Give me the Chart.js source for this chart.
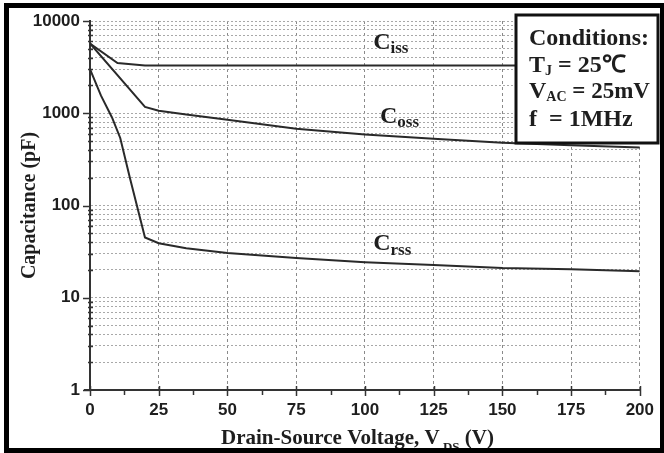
<!DOCTYPE html>
<html>
<head>
<meta charset="utf-8">
<script src="https://cdn.jsdelivr.net/npm/chart.js@4"></script>
<style>
  html, body { margin: 0; padding: 0; background: #fff; }
  canvas { display: block; }
</style>
</head>
<body>
<canvas id="chart" width="664" height="453"></canvas>
<script>
// Capacitance vs. drain-source voltage (log scale, pF)
const cissV = [0, 10, 20, 50, 100, 150, 200];
const cissC = [5700, 3500, 3300, 3300, 3290, 3290, 3290];

const cossV = [0, 20, 25, 35, 50, 75, 100, 125, 150, 175, 200];
const cossC = [5700, 1170, 1065, 970, 850, 680, 590, 530, 480, 450, 425];

const crssV = [0, 4, 8, 11, 14.5, 20, 25, 35, 50, 75, 100, 125, 150, 175, 200];
const crssC = [3000, 1550, 900, 540, 200, 45, 39, 34.5, 30.5, 27, 24.3, 22.6, 21, 20.4, 19.4];

const xTicks = [0, 25, 50, 75, 100, 125, 150, 175, 200];
const yTicks = [1, 10, 100, 1000, 10000];

const SERIF = '"Liberation Serif", "Times New Roman", Times, serif';
const SANS = '"Liberation Sans", Arial, Helvetica, sans-serif';
const INK = '#1e1e1e';

function pts(xs, ys) { return xs.map((v, i) => ({ x: v, y: ys[i] })); }

// every 1..9 x 10^n position of the log axis
function logPositions(min, max) {
  const out = [];
  for (let d = min; d <= max; d *= 10) {
    for (let m = 1; m < 10; m++) {
      const v = d * m;
      if (v > max) break;
      out.push(v);
    }
  }
  return out;
}

// small tick marks on both axes
const tickMarks = {
  id: 'tickMarks',
  afterDatasetsDraw(chart) {
    const { ctx, scales: { x, y } } = chart;
    const ax = chart.chartArea.left, ay = chart.chartArea.bottom;
    ctx.save();
    ctx.strokeStyle = '#333';
    ctx.lineWidth = 1.5;
    logPositions(1, 10000).forEach(v => {
      const py = Math.round(y.getPixelForValue(v)) + 0.5;
      const major = yTicks.includes(v);
      ctx.beginPath();
      ctx.moveTo(major ? ax - 7 : ax - 2, py);
      ctx.lineTo(major ? ax : ax + 3, py);
      ctx.stroke();
    });
    for (let v = 0; v <= 200; v += 12.5) {
      const px = Math.round(x.getPixelForValue(v)) + 0.5;
      const major = xTicks.includes(v);
      ctx.beginPath();
      ctx.moveTo(px, major ? ay - 4 : ay);
      ctx.lineTo(px, major ? ay + 6 : ay + 5);
      ctx.stroke();
    }
    // x axis line runs a little past the y axis
    ctx.lineWidth = 2;
    ctx.beginPath();
    ctx.moveTo(ax - 6, ay);
    ctx.lineTo(ax, ay);
    ctx.stroke();
    ctx.restore();
  }
};

// draws a run of [text, fontSize, baselineShift] pieces
function drawRich(ctx, x, y, pieces) {
  let cx = x;
  pieces.forEach(([t, size, dy]) => {
    ctx.font = 'bold ' + size + 'px ' + SERIF;
    ctx.fillText(t, cx, y + dy);
    cx += ctx.measureText(t).width;
  });
  return cx;
}

// curve names, conditions box, x title, outer frame
const annotations = {
  id: 'annotations',
  afterDatasetsDraw(chart) {
    const { ctx, scales: { x, y } } = chart;
    ctx.save();
    ctx.fillStyle = INK;
    ctx.textBaseline = 'alphabetic';
    ctx.textAlign = 'left';

    // curve names
    drawRich(ctx, x.getPixelForValue(103), y.getPixelForValue(5000), [['C', 24, 0], ['iss', 17, 4]]);
    drawRich(ctx, x.getPixelForValue(105.5), y.getPixelForValue(780), [['C', 24, 0], ['oss', 17, 4]]);
    drawRich(ctx, x.getPixelForValue(103), y.getPixelForValue(32.7), [['C', 24, 0], ['rss', 17, 5]]);

    // conditions box
    ctx.fillStyle = '#fff';
    ctx.fillRect(516, 15, 142, 128);
    ctx.strokeStyle = '#111';
    ctx.lineWidth = 3;
    ctx.strokeRect(516, 15, 142, 128);
    ctx.fillStyle = INK;
    drawRich(ctx, 529, 45, [['Conditions:', 24, 0]]);
    drawRich(ctx, 529, 72, [['T', 24, 0], ['J', 14, 3], [' = 25\u2103', 24, 0]]);
    drawRich(ctx, 529, 98, [['V', 24, 0], ['AC', 14, 3], [' = 25mV', 23, 0]]);
    drawRich(ctx, 529, 126, [['f  = 1MHz', 24, 0]]);

    // x axis title
    drawRich(ctx, 221, 444, [['Drain-Source Voltage, V', 21, 0], [' DS', 13, 7], [' (V)', 21, 0]]);

    // outer frame
    ctx.fillStyle = '#000';
    ctx.fillRect(4, 3, 5, 450);
    ctx.fillRect(4, 3, 660, 5);
    ctx.fillRect(4, 448, 660, 5);
    ctx.fillRect(660, 3, 4, 450);
    ctx.restore();
  }
};

const lineStyle = {
  borderColor: '#2a2a2a',
  borderWidth: 2,
  pointRadius: 0,
  tension: 0,
  fill: false
};

new Chart(document.getElementById('chart'), {
  type: 'line',
  data: {
    datasets: [
      { label: 'Ciss', data: pts(cissV, cissC), ...lineStyle },
      { label: 'Coss', data: pts(cossV, cossC), ...lineStyle },
      { label: 'Crss', data: pts(crssV, crssC), ...lineStyle }
    ]
  },
  options: {
    responsive: false,
    animation: false,
    devicePixelRatio: 1,
    layout: { padding: { top: 21, right: 24, bottom: 0, left: 0 } },
    plugins: { legend: { display: false }, tooltip: { enabled: false } },
    scales: {
      x: {
        type: 'linear',
        min: 0,
        max: 200,
        afterBuildTicks: s => { s.ticks = xTicks.map(v => ({ value: v })); },
        afterFit: s => { s.height = 63; },
        ticks: {
          autoSkip: false,
          maxRotation: 0,
          padding: 10,
          color: INK,
          font: { family: SANS, weight: 'bold', size: 17 }
        },
        grid: {
          drawTicks: false,
          lineWidth: 1,
          color: c => (c.tick && c.tick.value === 0) ? 'rgba(0,0,0,0)' : '#8a8a8a'
        },
        border: { display: true, color: '#333', width: 2, dash: [3, 3] }
      },
      y: {
        type: 'logarithmic',
        min: 1,
        max: 10000,
        afterBuildTicks: s => { s.ticks = logPositions(1, 10000).map(v => ({ value: v })); },
        afterFit: s => { s.width = 90; },
        ticks: {
          autoSkip: false,
          padding: 10,
          color: INK,
          font: { family: SANS, weight: 'bold', size: 17 },
          callback: v => yTicks.includes(v) ? String(v) : ''
        },
        title: {
          display: true,
          text: 'Capacitance (pF)',
          color: INK,
          font: { family: SERIF, weight: 'bold', size: 20 },
          padding: { top: 18, bottom: 0 }
        },
        grid: { drawTicks: false, lineWidth: 1, color: '#a8a8a8' },
        border: { display: true, color: '#333', width: 2, dash: [2, 2] }
      }
    }
  },
  plugins: [tickMarks, annotations]
});
</script>
</body>
</html>
